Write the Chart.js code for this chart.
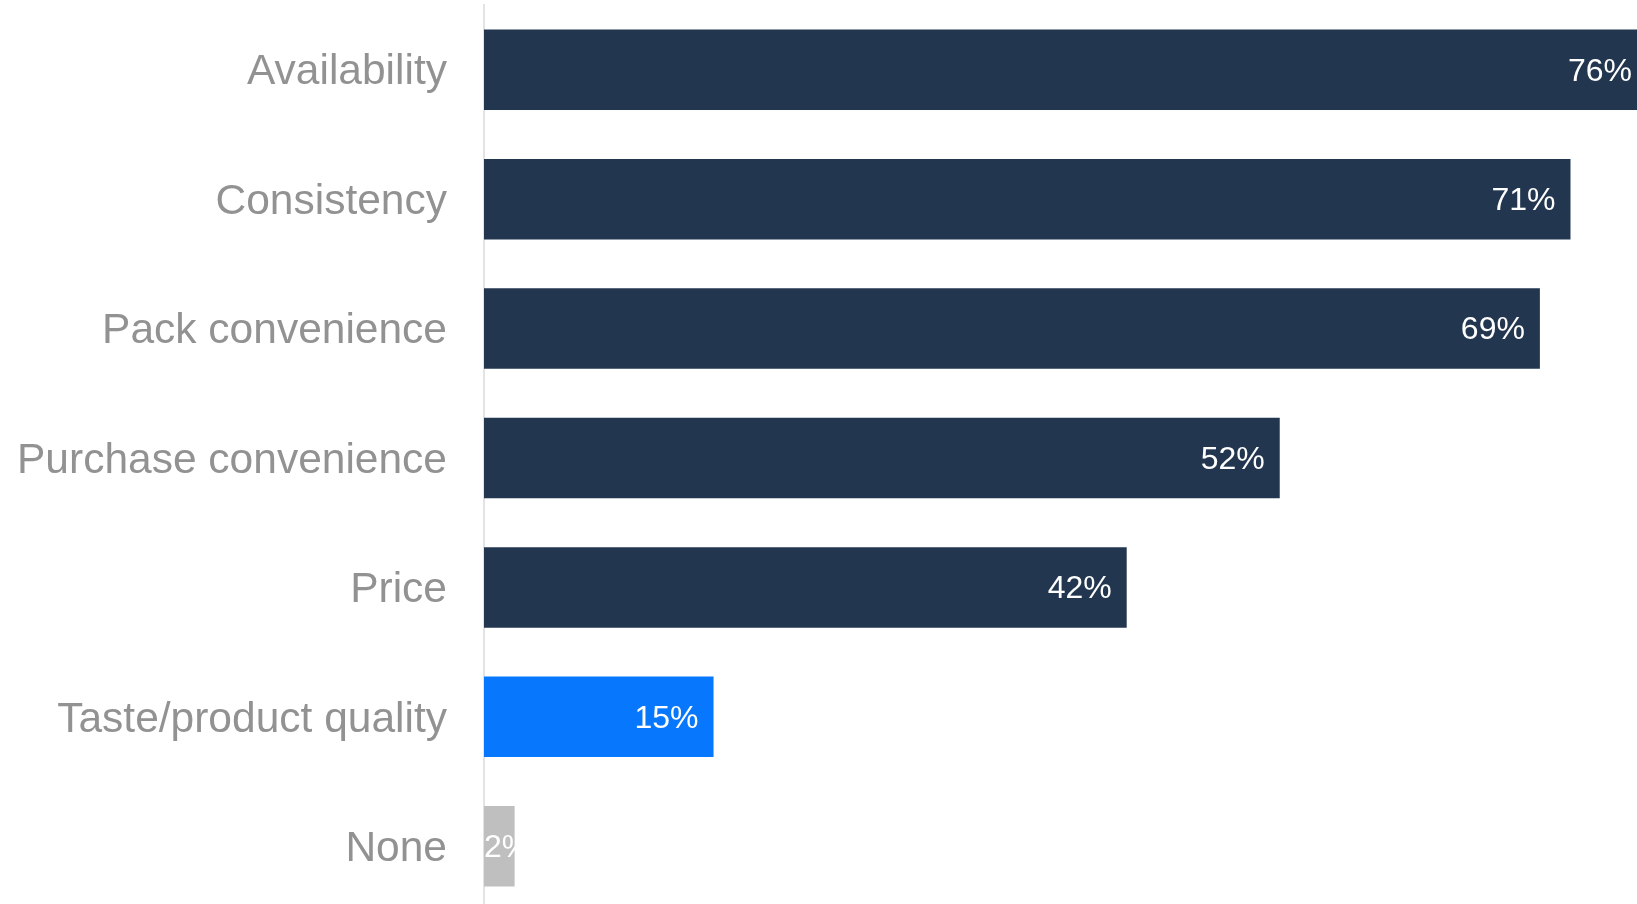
<!DOCTYPE html>
<html>
<head>
<meta charset="utf-8">
<title>Purchase drivers</title>
<script src="https://cdn.jsdelivr.net/npm/chart.js@4/dist/chart.umd.min.js"></script>
<style>
  html, body { margin: 0; padding: 0; background: #ffffff; overflow: hidden; width: 1637px; height: 904px; }
  #wrap { position: absolute; left: 0; top: 0; width: 1647px; height: 911px; }
</style>
</head>
<body>
<div id="wrap"><canvas id="chart"></canvas></div>
<script>
// Categories and shares (percent of respondents)
const categories = [
  "Availability",
  "Consistency",
  "Pack convenience",
  "Purchase convenience",
  "Price",
  "Taste/product quality",
  "None"
];
const shares = [76, 71, 69, 52, 42, 15, 2];
const barColors = ["#22364f", "#22364f", "#22364f", "#22364f", "#22364f", "#0777fd", "#bfbfbf"];

const FONT = '"Liberation Sans", Arial, Helvetica, sans-serif';

// White value labels placed at the inner end of each bar
const valueLabels = {
  id: "valueLabels",
  afterDatasetsDraw(chart) {
    const ctx = chart.ctx;
    const meta = chart.getDatasetMeta(0);
    ctx.save();
    ctx.font = "32px " + FONT;
    ctx.fillStyle = "#ffffff";
    ctx.textAlign = "right";
    ctx.textBaseline = "middle";
    meta.data.forEach((bar, i) => {
      const text = shares[i] + "%";
      const w = ctx.measureText(text).width;
      const x = Math.max(bar.x - 15, bar.base + w);
      ctx.fillText(text, x, bar.y + 2);
    });
    ctx.restore();
  }
};

new Chart(document.getElementById("chart"), {
  type: "bar",
  data: {
    labels: categories,
    datasets: [{
      data: shares,
      backgroundColor: barColors,
      borderWidth: 0,
      barPercentage: 0.622,
      categoryPercentage: 1.0
    }]
  },
  options: {
    indexAxis: "y",
    responsive: true,
    maintainAspectRatio: false,
    animation: false,
    layout: { padding: { top: 5, right: 0, bottom: 0, left: 0 } },
    plugins: {
      legend: { display: false },
      tooltip: { enabled: false }
    },
    scales: {
      x: {
        display: false,
        min: 0,
        max: 76
      },
      y: {
        grid: { display: false, drawTicks: false },
        border: { display: true, color: "#e3e3e3", width: 2 },
        ticks: {
          color: "#929292",
          padding: 37,
          labelOffset: 3,
          font: { family: FONT, size: 42.5 }
        },
        afterFit(scale) {
          // fixed label column; no extra room above the first / below the last label
          scale.width = 484;
          scale.paddingTop = 0;
          scale.paddingBottom = 0;
        }
      }
    }
  },
  plugins: [valueLabels]
});
</script>
</body>
</html>
